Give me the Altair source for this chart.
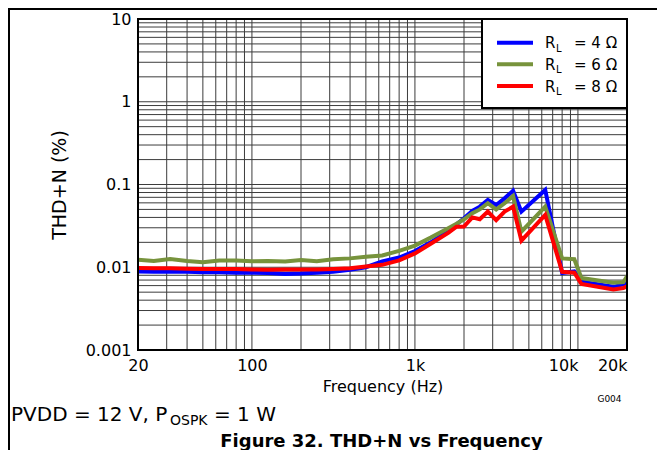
import altair as alt
import pandas as pd

# ---------------- data ----------------
freq = [20, 25, 31.5, 40, 50, 63, 80, 100, 125, 160, 200, 250, 315, 400, 500, 630,
        800, 1000, 1250, 1600, 1800, 2000, 2250, 2500, 2800, 3150, 3550, 4000, 4500,
        6300, 8000, 9500, 10500, 16500, 19000, 20000]

thd_4ohm = [0.0089, 0.0088, 0.0088, 0.0088, 0.0087, 0.0087, 0.0086, 0.0086, 0.0085, 0.0083,
            0.0084, 0.0086, 0.0088, 0.0093, 0.0100, 0.0118, 0.0131, 0.0157, 0.0200, 0.0275,
            0.0330, 0.0390, 0.0480, 0.0540, 0.0650, 0.0565, 0.0680, 0.0840, 0.0470, 0.0860,
            0.0085, 0.0089, 0.0067, 0.0058, 0.0062, 0.0064]

thd_6ohm = [0.0123, 0.0119, 0.0126, 0.0119, 0.0115, 0.0121, 0.0121, 0.0118, 0.0119, 0.0117,
            0.0122, 0.0118, 0.0125, 0.0128, 0.0134, 0.0139, 0.0158, 0.0183, 0.0228, 0.0296,
            0.0336, 0.0380, 0.0450, 0.0500, 0.0594, 0.0500, 0.0593, 0.0726, 0.0269, 0.0540,
            0.0128, 0.0125, 0.0074, 0.0065, 0.0066, 0.0078]

thd_8ohm = [0.0098, 0.0097, 0.0097, 0.0096, 0.0095, 0.0095, 0.0095, 0.0094, 0.0093, 0.0094,
            0.0094, 0.0094, 0.0095, 0.0097, 0.0102, 0.0107, 0.0121, 0.0147, 0.0192, 0.0260,
            0.0309, 0.0310, 0.0400, 0.0380, 0.0470, 0.0370, 0.0470, 0.0540, 0.0210, 0.0430,
            0.0088, 0.0086, 0.0063, 0.0054, 0.0056, 0.0059]

series_names = ["RL = 4 Ω", "RL = 6 Ω", "RL = 8 Ω"]
series_colors = ["#0000FF", "#77933C", "#FF0000"]
legend_values = ["4", "6", "8"]

x_ticks = [20, 100, 1000, 10000, 20000]
y_ticks = [0.001, 0.01, 0.1, 1, 10]

grid_x = [30, 40, 50, 60, 70, 80, 90,
          100, 200, 300, 400, 500, 600, 700, 800, 900,
          1000, 2000, 3000, 4000, 5000, 6000, 7000, 8000, 9000, 10000]
grid_y = [0.002, 0.003, 0.004, 0.005, 0.006, 0.007, 0.008, 0.009,
          0.01, 0.02, 0.03, 0.04, 0.05, 0.06, 0.07, 0.08, 0.09,
          0.1, 0.2, 0.3, 0.4, 0.5, 0.6, 0.7, 0.8, 0.9,
          1, 2, 3, 4, 5, 6, 7, 8, 9]

# ---------------- chart ----------------
FONT = "DejaVu Sans"
W, H = 489, 331

xscale = alt.Scale(type="log", domain=[20, 20000], nice=False)
yscale = alt.Scale(type="log", domain=[0.001, 10], nice=False)

xaxis = alt.Axis(values=x_ticks, ticks=False, domain=False, grid=False,
                 labelExpr="datum.value >= 1000 ? format(datum.value/1000, 'd') + 'k' : format(datum.value, 'd')",
                 labelAlign={"condition": {"test": "datum.value >= 10000", "value": "right"},
                             "value": "center"},
                 labelFont=FONT, labelFontSize=16, labelColor="black", labelPadding=7,
                 labelFlush=False, labelOverlap=False,
                 title="Frequency (Hz)", titleFont=FONT, titleFontSize=16,
                 titleFontWeight="normal", titleColor="black", titlePadding=5)
yaxis = alt.Axis(values=y_ticks, ticks=False, domain=False, grid=False,
                 labelExpr="datum.value >= 1 ? format(datum.value, 'd') : format(datum.value, '.3~f')",
                 labelFont=FONT, labelFontSize=16, labelColor="black", labelPadding=7,
                 labelFlush=False, labelOverlap=False,
                 title="THD+N (%)", titleFont=FONT, titleFontSize=19,
                 titleFontWeight="normal", titleColor="black", titlePadding=16)

rows = []
for name, vals in zip(series_names, [thd_4ohm, thd_6ohm, thd_8ohm]):
    for f, v in zip(freq, vals):
        rows.append({"f": f, "v": v, "s": name})
df = pd.DataFrame(rows)

one = pd.DataFrame({"a": [0]})

GRID = "#3c3c3c"
gx = alt.Chart(pd.DataFrame({"f": grid_x})).mark_rule(color=GRID, strokeWidth=1).encode(
    x=alt.X("f:Q", scale=xscale, axis=xaxis))
gy = alt.Chart(pd.DataFrame({"v": grid_y})).mark_rule(color=GRID, strokeWidth=1).encode(
    y=alt.Y("v:Q", scale=yscale, axis=yaxis))

lines = alt.Chart(df).mark_line(strokeWidth=4, strokeJoin="miter", clip=True).encode(
    x=alt.X("f:Q", scale=xscale, axis=xaxis),
    y=alt.Y("v:Q", scale=yscale, axis=yaxis),
    color=alt.Color("s:N", scale=alt.Scale(domain=series_names, range=series_colors), legend=None),
    order=alt.Order("f:Q"),
)

# plot frame
plot_frame = alt.Chart(one).mark_rect(fill=None, fillOpacity=0, stroke="black", strokeWidth=2).encode(
    x=alt.value(0), x2=alt.value(W), y=alt.value(0), y2=alt.value(H))

# legend box with subscript text
legend_box = alt.Chart(one).mark_rect(fill="white", stroke="black", strokeWidth=2).encode(
    x=alt.value(344), x2=alt.value(W), y=alt.value(0), y2=alt.value(89))

legend_layers = [legend_box]
row_y = [23.7, 45.3, 67.0]
for col, val, cy in zip(series_colors, legend_values, row_y):
    legend_layers.append(alt.Chart(one).mark_rule(color=col, strokeWidth=4).encode(
        x=alt.value(359), x2=alt.value(395), y=alt.value(cy)))
    legend_layers.append(alt.Chart(one).mark_text(text="R", font=FONT, fontSize=15, align="left",
                                                  baseline="alphabetic", color="black").encode(
        x=alt.value(407), y=alt.value(cy + 5.5)))
    legend_layers.append(alt.Chart(one).mark_text(text="L", font=FONT, fontSize=10, align="left",
                                                  baseline="alphabetic", color="black").encode(
        x=alt.value(418), y=alt.value(cy + 9)))
    legend_layers.append(alt.Chart(one).mark_text(text=f"= {val} Ω", font=FONT, fontSize=15,
                                                  align="left", baseline="alphabetic",
                                                  color="black").encode(
        x=alt.value(436), y=alt.value(cy + 5.5)))

# annotations below the plot
px0 = -127
notes = [
    alt.Chart(one).mark_text(text="G004", font=FONT, fontSize=9, align="center",
                             baseline="alphabetic", color="black").encode(
        x=alt.value(471.5), y=alt.value(382.5)),
    alt.Chart(one).mark_text(text="PVDD = 12 V, P", font=FONT, fontSize=20, align="left",
                             baseline="alphabetic", color="black").encode(
        x=alt.value(px0), y=alt.value(402)),
    alt.Chart(one).mark_text(text="OSPK", font=FONT, fontSize=14, align="left",
                             baseline="alphabetic", color="black").encode(
        x=alt.value(px0 + 159), y=alt.value(406)),
    alt.Chart(one).mark_text(text="= 1 W", font=FONT, fontSize=20, align="left",
                             baseline="alphabetic", color="black").encode(
        x=alt.value(px0 + 203), y=alt.value(402)),
    alt.Chart(one).mark_text(text="Figure 32. THD+N vs Frequency", font=FONT, fontSize=18,
                             fontWeight="bold", align="center", baseline="alphabetic",
                             color="black").encode(
        x=alt.value(243.5), y=alt.value(427.5)),
]

# outer figure frame (left and top edges)
frame = [
    alt.Chart(one).mark_rule(color="black", strokeWidth=2).encode(
        x=alt.value(-129), y=alt.value(-11), y2=alt.value(450)),
    alt.Chart(one).mark_rule(color="black", strokeWidth=2).encode(
        x=alt.value(-130), x2=alt.value(520), y=alt.value(-10)),
]

chart = alt.layer(gx, gy, lines, plot_frame, *legend_layers, *notes, *frame).properties(
    width=W, height=H,
    padding={"left": 130, "top": 11, "right": 30, "bottom": 100},
    autosize=alt.AutoSizeParams(type="none"),
).configure_view(stroke=None).configure(background="white")

chart.save("out.html", embed_options={"renderer": "svg", "actions": False})
